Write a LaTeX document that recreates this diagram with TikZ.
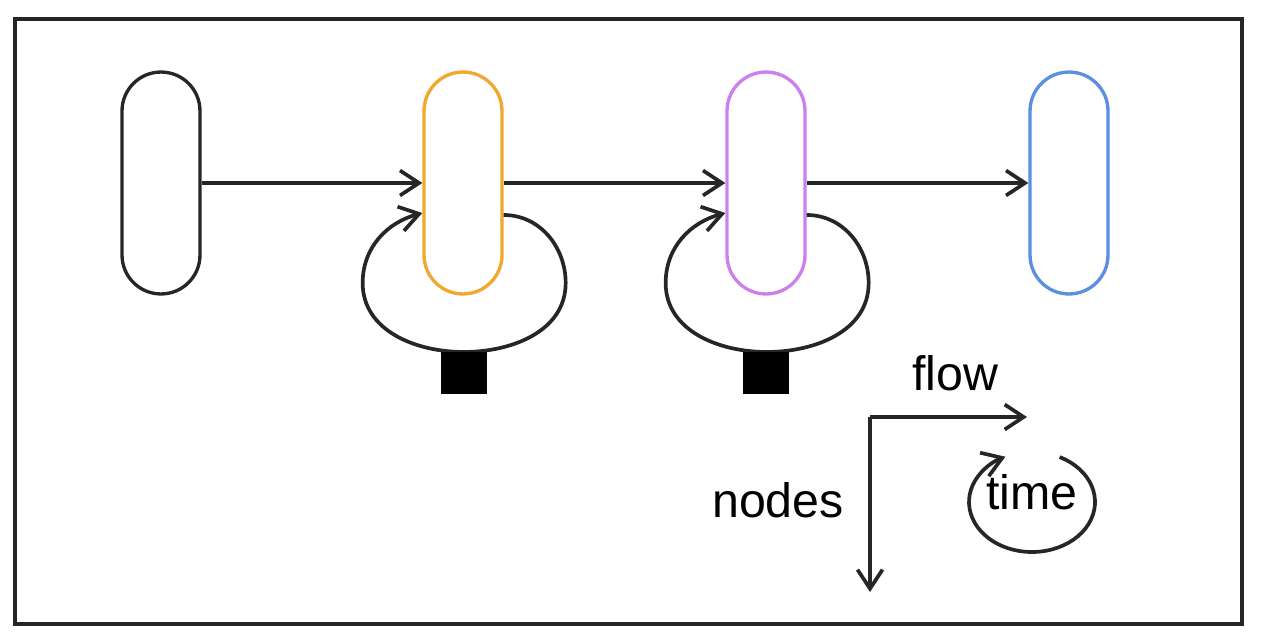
\documentclass[tikz,border=0pt]{standalone}
\usepackage{fontspec}
\setmainfont{Liberation Sans}
\definecolor{pillblk}{rgb}{0.15,0.15,0.15}
\definecolor{pillorg}{rgb}{0.94,0.66,0.18}
\definecolor{pillprp}{rgb}{0.80,0.50,0.93}
\definecolor{pillblu}{rgb}{0.36,0.56,0.88}
\usetikzlibrary{arrows.meta, positioning}

\begin{document}
\begin{tikzpicture}[x=0.02cm, y=0.02cm,
  pill/.style={draw, line width=1.9pt, rectangle, minimum width=1.56cm,
    minimum height=4.44cm, rounded corners=0.78cm, inner sep=0pt},
  link/.style={draw=pillblk, line width=2.1pt, -{Straight Barb[length=0.38cm, width=0.5cm, line width=2.1pt]}},
  sink/.style={fill=black, draw=none, minimum width=0.92cm, minimum height=0.84cm, inner sep=0pt},
  lbl/.style={font=\fontsize{27.5}{30}\selectfont, inner sep=0pt}]
\useasboundingbox (0,0) rectangle (1266,643);
\draw[line width=2pt, pillblk] (15,19) rectangle (1242,624);
\node[pill, draw=pillblk] (blk) at (161,460) {};
\node[pill, draw=pillorg] (orng) at (463,460) {};
\node[pill, draw=pillprp] (prpl) at (766,460) {};
\node[pill, draw=pillblu] (blue) at (1069,460) {};
\draw[link] (blk.east) -- (orng.west);
\draw[link] (orng.east) -- (prpl.west);
\draw[link] (prpl.east) -- (blue.west);
% self loops
\draw[link] ([yshift=-0.64cm]orng.east) to[out=0,in=90] ++(62,-68)
  to[out=-90,in=0] ++(-102,-69) to[out=180,in=-90] ++(-101,69)
  to[out=90,in=195] ([yshift=-0.6cm]orng.west);
\draw[link] ([yshift=-0.64cm]prpl.east) to[out=0,in=90] ++(62,-68)
  to[out=-90,in=0] ++(-102,-69) to[out=180,in=-90] ++(-101,69)
  to[out=90,in=195] ([yshift=-0.6cm]prpl.west);
\node[sink, anchor=north] (orngsq) at (464,291) {};
\node[sink, anchor=north] (prplsq) at (766,291) {};
% axes
\coordinate (corner) at (870,226);
\coordinate (flowend) at (1027,226);
\coordinate (nodesend) at (870,51);
\draw[link] (flowend -| corner) |- (flowend);
\draw[link] (corner) -- (nodesend);
\node[lbl] (flowlbl) at (955,270) {flow};
\node[lbl] (nodeslbl) at (778,143) {nodes};
\node[lbl] (timelbl) at (1032,151) {time};
\draw[link] (timelbl.center) ++(0,-10) ++(64:1.26cm and 1cm)
  arc[start angle=64, end angle=-245, x radius=1.26cm, y radius=1cm];
\end{tikzpicture}
\end{document}
